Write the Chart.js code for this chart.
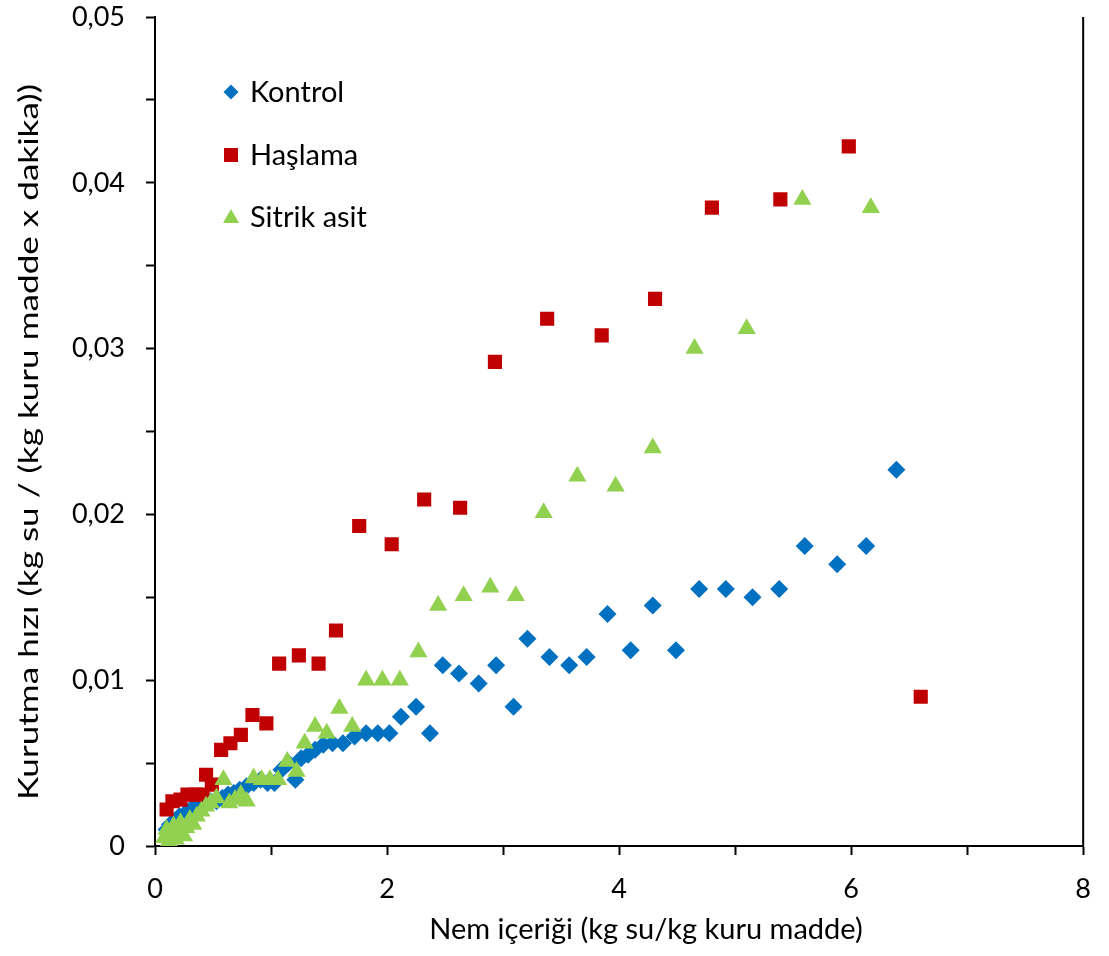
<!DOCTYPE html>
<html>
<head>
<meta charset="utf-8">
<script src="https://cdn.jsdelivr.net/npm/chart.js@4.4.1/dist/chart.umd.min.js"></script>
<style>
  html, body { margin: 0; padding: 0; background: #fff; }
  #wrap { width: 1109px; height: 956px; }
</style>
</head>
<body>
<div id="wrap"><canvas id="kurutma"></canvas></div>
<script>
// Kurutma hızı - nem içeriği verileri
const kontrolX = [0.10, 0.13, 0.17, 0.21, 0.25, 0.29, 0.34, 0.38, 0.43, 0.48, 0.53, 0.58, 0.63, 0.68, 0.73, 0.79, 0.85, 0.91, 0.97, 1.03, 1.09, 1.15, 1.21, 1.26, 1.32, 1.38, 1.45, 1.53, 1.62, 1.72, 1.82, 1.92, 2.02, 2.12, 2.25, 2.37, 2.48, 2.62, 2.79, 2.94, 3.09, 3.21, 3.40, 3.57, 3.72, 3.90, 4.10, 4.29, 4.49, 4.69, 4.92, 5.15, 5.38, 5.60, 5.88, 6.13, 6.39];
const kontrolY = [0.0010, 0.0013, 0.0015, 0.0018, 0.0019, 0.0021, 0.0024, 0.0025, 0.0026, 0.0027, 0.0027, 0.0029, 0.0031, 0.0032, 0.0034, 0.0036, 0.0038, 0.0040, 0.0038, 0.0038, 0.0046, 0.0050, 0.0040, 0.0053, 0.0055, 0.0058, 0.0061, 0.0062, 0.0062, 0.0066, 0.0068, 0.0068, 0.0068, 0.0078, 0.0084, 0.0068, 0.0109, 0.0104, 0.0098, 0.0109, 0.0084, 0.0125, 0.0114, 0.0109, 0.0114, 0.0140, 0.0118, 0.0145, 0.0118, 0.0155, 0.0155, 0.0150, 0.0155, 0.0181, 0.0170, 0.0181, 0.0227];

const haslamaX = [0.10, 0.15, 0.22, 0.28, 0.35, 0.41, 0.44, 0.49, 0.57, 0.65, 0.74, 0.84, 0.96, 1.07, 1.24, 1.41, 1.56, 1.76, 2.04, 2.32, 2.63, 2.93, 3.38, 3.85, 4.31, 4.80, 5.39, 5.98, 6.60];
const haslamaY = [0.0022, 0.0027, 0.0028, 0.0031, 0.0031, 0.0031, 0.0043, 0.0037, 0.0058, 0.0062, 0.0067, 0.0079, 0.0074, 0.0110, 0.0115, 0.0110, 0.0130, 0.0193, 0.0182, 0.0209, 0.0204, 0.0292, 0.0318, 0.0308, 0.0330, 0.0385, 0.0390, 0.0422, 0.0090];

const sitrikX = [0.08, 0.10, 0.12, 0.14, 0.16, 0.18, 0.20, 0.22, 0.25, 0.27, 0.30, 0.33, 0.36, 0.40, 0.44, 0.48, 0.53, 0.59, 0.64, 0.69, 0.74, 0.79, 0.85, 0.92, 0.99, 1.06, 1.14, 1.22, 1.29, 1.38, 1.48, 1.59, 1.70, 1.82, 1.96, 2.11, 2.27, 2.44, 2.66, 2.89, 3.11, 3.35, 3.64, 3.97, 4.29, 4.65, 5.10, 5.58, 6.17];
const sitrikY = [0.0005, 0.0010, 0.0003, 0.0007, 0.0012, 0.0004, 0.0009, 0.0014, 0.0006, 0.0011, 0.0016, 0.0013, 0.0018, 0.0021, 0.0024, 0.0026, 0.0029, 0.0040, 0.0026, 0.0028, 0.0031, 0.0027, 0.0041, 0.0040, 0.0040, 0.0040, 0.0051, 0.0045, 0.0062, 0.0072, 0.0068, 0.0083, 0.0072, 0.0100, 0.0100, 0.0100, 0.0117, 0.0145, 0.0151, 0.0156, 0.0151, 0.0201, 0.0223, 0.0217, 0.0240, 0.0300, 0.0312, 0.0390, 0.0385];

const seriesNames = ['Kontrol', 'Haşlama', 'Sitrik asit'];
const xTickLabels = ['0', '2', '4', '6', '8'];
const yTickLabels = ['0', '0,01', '0,02', '0,03', '0,04', '0,05'];
const xTitle = 'Nem içeriği (kg su/kg kuru madde)';
const yTitle = 'Kurutma hızı (kg su / (kg kuru madde x dakika))';

const FONT = 'Lato, "Open Sans", sans-serif';

function toPoints(xs, ys) {
  return xs.map((x, i) => ({ x: x, y: ys[i] }));
}

// eksen başlıkları, gösterge ve sağ kenar çizgisi
const extrasPlugin = {
  id: 'extras',
  afterDraw(chart) {
    const ctx = chart.ctx;
    const a = chart.chartArea;
    ctx.save();

    // gösterge (grafik alanının içinde)
    const rows = [92, 155, 217];
    chart.data.datasets.forEach((ds, i) => {
      const y = rows[i];
      const x = 231;
      ctx.fillStyle = ds.backgroundColor;
      ctx.beginPath();
      if (ds.pointStyle === 'rectRot') {
        ctx.moveTo(x - 7.5, y); ctx.lineTo(x, y - 7.5);
        ctx.lineTo(x + 7.5, y); ctx.lineTo(x, y + 7.5);
      } else if (ds.pointStyle === 'rect') {
        ctx.rect(x - 7, y - 7, 14, 14);
      } else {
        ctx.moveTo(x, y - 8); ctx.lineTo(x + 8, y + 6); ctx.lineTo(x - 8, y + 6);
      }
      ctx.closePath();
      ctx.fill();
      ctx.fillStyle = '#000';
      ctx.font = '29px ' + FONT;
      ctx.textBaseline = 'middle';
      ctx.textAlign = 'left';
      ctx.fillText(ds.label, 250, y + 1);
    });

    // x ekseni başlığı
    ctx.fillStyle = '#000';
    ctx.font = '29px ' + FONT;
    ctx.textAlign = 'center';
    ctx.textBaseline = 'middle';
    ctx.fillText(xTitle, 646, 930);

    // y ekseni başlığı (dikey, biraz uzatılmış)
    ctx.save();
    ctx.translate(29, 442);
    ctx.rotate(-Math.PI / 2);
    ctx.scale(1.3, 1);
    ctx.font = '27px ' + FONT;
    ctx.fillText(yTitle, 0, 0);
    ctx.restore();

    // sağ kenar çizgisi
    ctx.strokeStyle = '#000';
    ctx.lineWidth = 2;
    ctx.beginPath();
    ctx.moveTo(a.right, a.top);
    ctx.lineTo(a.right, a.bottom);
    ctx.stroke();
    ctx.restore();
  }
};

new Chart(document.getElementById('kurutma'), {
  type: 'scatter',
  data: {
    datasets: [
      {
        label: seriesNames[0],
        data: toPoints(kontrolX, kontrolY),
        pointStyle: 'rectRot',
        pointRadius: 9,
        backgroundColor: '#0070C0',
        borderWidth: 0,
        order: 2
      },
      {
        label: seriesNames[1],
        data: toPoints(haslamaX, haslamaY),
        pointStyle: 'rect',
        pointRadius: 10,
        backgroundColor: '#C00000',
        borderWidth: 0,
        order: 1
      },
      {
        label: seriesNames[2],
        data: toPoints(sitrikX, sitrikY),
        pointStyle: 'triangle',
        pointRadius: 10.5,
        backgroundColor: '#92D050',
        borderWidth: 0,
        order: 0
      }
    ]
  },
  options: {
    responsive: true,
    maintainAspectRatio: false,
    animation: false,
    layout: { padding: { top: 17, right: 23, left: 0, bottom: 0 } },
    plugins: {
      legend: { display: false },
      tooltip: { enabled: false }
    },
    scales: {
      x: {
        type: 'linear',
        min: 0,
        max: 8,
        afterFit(scale) { scale.height = 110; },
        border: { display: true, color: '#000', width: 2 },
        grid: { drawOnChartArea: false, drawTicks: true, tickLength: 9, tickColor: '#000', tickWidth: 2 },
        ticks: {
          stepSize: 1,
          padding: 18,
          color: '#000',
          font: { family: FONT, size: 27 },
          maxRotation: 0,
          autoSkip: false,
          callback: (v) => (v % 2 === 0 ? xTickLabels[v / 2] : '')
        }
      },
      y: {
        type: 'linear',
        min: 0,
        max: 0.05,
        afterFit(scale) {
          scale.width = 155;
          scale.paddingTop = 0;
          scale.paddingBottom = 0;
        },
        border: { display: true, color: '#000', width: 2 },
        grid: { drawOnChartArea: false, drawTicks: true, tickLength: 9, tickColor: '#000', tickWidth: 2 },
        ticks: {
          stepSize: 0.005,
          padding: 21,
          color: '#000',
          font: { family: FONT, size: 27 },
          autoSkip: false,
          callback: (v) => {
            const k = Math.round(v / 0.005);
            return k % 2 === 0 ? yTickLabels[k / 2] : '';
          }
        }
      }
    }
  },
  plugins: [extrasPlugin]
});
</script>
</body>
</html>
